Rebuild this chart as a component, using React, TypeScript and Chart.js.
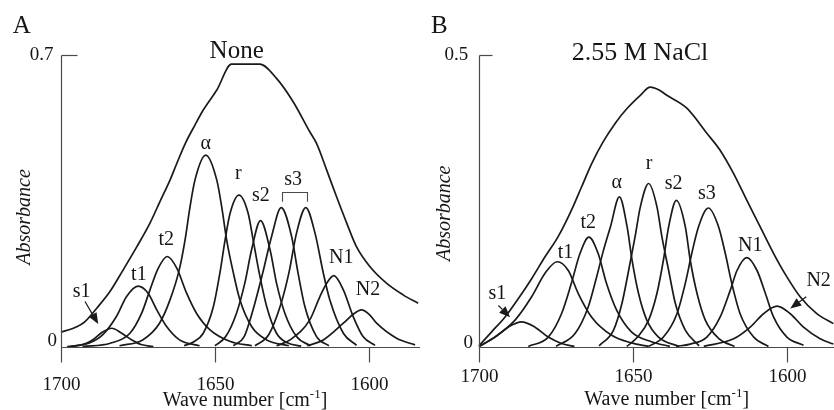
import React, { useEffect, useRef } from 'react';
import { Chart, registerables } from 'chart.js';

Chart.register(...registerables);

type Pt = [number, number];

// ---------- axis ticks ----------
const xTicks = [1700, 1650, 1600];
const yTicksA = [0, 0.7];
const yTicksB = [0, 0.5];

// ---------- Panel A (None) : [wave number, absorbance] ----------
const envA: Pt[] = [
  [1700, 0.036], [1696, 0.045], [1692.2, 0.061], [1688.4, 0.093], [1684.1, 0.133],
  [1679.8, 0.185], [1675.4, 0.24], [1671.1, 0.297], [1667.9, 0.348], [1664.6, 0.4],
  [1662.4, 0.44], [1659.5, 0.49], [1656.5, 0.532], [1653.8, 0.568], [1649.4, 0.616],
  [1644.6, 0.678], [1635.4, 0.678], [1630, 0.644], [1624.6, 0.588], [1619.2, 0.516],
  [1617, 0.488], [1613.7, 0.424], [1610.5, 0.36], [1607.2, 0.297], [1604, 0.24],
  [1599.7, 0.193], [1594.3, 0.153], [1588.9, 0.125], [1584, 0.105],
];
const aS1: Pt[] = [
  [1697, 0.001], [1692, 0.008], [1689.5, 0.018], [1686.5, 0.036], [1683.5, 0.045],
  [1680.5, 0.034], [1677, 0.017], [1674, 0.006], [1670, 0.001],
];
const aT1: Pt[] = [
  [1698, 0.001], [1691, 0.009], [1686.5, 0.029], [1682, 0.073], [1678.7, 0.121],
  [1675, 0.146], [1671.7, 0.129], [1668.9, 0.089], [1665.7, 0.049], [1661.5, 0.017], [1655, 0.003],
];
const aT2: Pt[] = [
  [1693, 0.001], [1684, 0.009], [1677.6, 0.033], [1673.8, 0.081], [1671.1, 0.137],
  [1668.4, 0.189], [1665.5, 0.217], [1662.4, 0.189], [1659.2, 0.129], [1656, 0.081],
  [1651.6, 0.041], [1645, 0.013], [1638, 0.003],
];
const aAlpha: Pt[] = [
  [1681, 0.003], [1673.5, 0.017], [1668, 0.057], [1664.6, 0.113], [1661.6, 0.185],
  [1659.7, 0.257], [1658.1, 0.336], [1656.5, 0.4], [1653, 0.46], [1649.4, 0.4],
  [1647.8, 0.336], [1646.2, 0.257], [1644, 0.177], [1641.9, 0.113], [1638.1, 0.049],
  [1633.2, 0.017], [1626, 0.003],
];
const aR: Pt[] = [
  [1660, 0.003], [1657, 0.012], [1653.8, 0.033], [1650.5, 0.097], [1648.4, 0.177],
  [1646.7, 0.257], [1645.1, 0.32], [1642.2, 0.364], [1639.2, 0.32], [1637.6, 0.257],
  [1635.6, 0.177], [1633.2, 0.097], [1630, 0.033], [1626.5, 0.01], [1622, 0.002],
];
const aS2: Pt[] = [
  [1650, 0.003], [1646.5, 0.025], [1643, 0.081], [1640.3, 0.153], [1638.1, 0.233],
  [1635.2, 0.303], [1632.1, 0.233], [1630, 0.153], [1627.3, 0.081], [1623.5, 0.025], [1619, 0.003],
];
const aS3a: Pt[] = [
  [1644, 0.003], [1640.5, 0.025], [1637.6, 0.09], [1634.5, 0.177], [1631.6, 0.265],
  [1628.5, 0.334], [1625.1, 0.265], [1623, 0.177], [1620.8, 0.097], [1617, 0.025], [1613, 0.003],
];
const aS3b: Pt[] = [
  [1637, 0.003], [1632.5, 0.03], [1628.5, 0.105], [1626, 0.177], [1623.5, 0.273],
  [1620.5, 0.334], [1617.5, 0.273], [1614.8, 0.177], [1612.7, 0.113], [1608.3, 0.033], [1604, 0.004],
];
const aN1: Pt[] = [
  [1630, 0.003], [1625.6, 0.017], [1619.2, 0.065], [1615.9, 0.121], [1613.5, 0.155],
  [1611.4, 0.171], [1608.3, 0.137], [1605.1, 0.073], [1601.9, 0.025], [1598, 0.004],
];
const aN2: Pt[] = [
  [1620, 0.003], [1614.8, 0.017], [1608.3, 0.057], [1605, 0.079], [1602.4, 0.089],
  [1600, 0.079], [1597.5, 0.057], [1591, 0.021], [1585, 0.005],
];

// ---------- Panel B (2.55 M NaCl) ----------
const envB: Pt[] = [
  [1700, 0.002], [1695.9, 0.026], [1691.6, 0.051], [1687.2, 0.083], [1682.9, 0.117],
  [1678.6, 0.154], [1674.3, 0.189], [1670, 0.234], [1666.7, 0.274], [1663.4, 0.314],
  [1659.6, 0.352], [1655.5, 0.385], [1652, 0.408], [1647.6, 0.431], [1644.4, 0.445],
  [1641.5, 0.44], [1639, 0.431], [1632.5, 0.409], [1626, 0.366], [1621.7, 0.337],
  [1617.3, 0.297], [1613, 0.251], [1608.7, 0.206], [1604.3, 0.16], [1600, 0.12],
  [1595.7, 0.086], [1590.3, 0.057], [1584.9, 0.04],
];
const bS1: Pt[] = [
  [1700, 0.001], [1694.8, 0.017], [1690.5, 0.034], [1686.2, 0.043], [1681.8, 0.034],
  [1677.5, 0.017], [1673.2, 0.006], [1669, 0.001],
];
const bT1: Pt[] = [
  [1700, 0.001], [1694.8, 0.017], [1688.3, 0.046], [1682.9, 0.086], [1678.6, 0.126],
  [1674.6, 0.146], [1671, 0.131], [1667.8, 0.092], [1663.4, 0.051], [1656.9, 0.02],
  [1650.5, 0.007], [1645, 0.001],
];
const bT2: Pt[] = [
  [1684, 0.001], [1677.5, 0.017], [1673.2, 0.057], [1670, 0.109], [1667.2, 0.16],
  [1664.3, 0.188], [1661.3, 0.16], [1658.6, 0.109], [1655.3, 0.063], [1650.5, 0.026],
  [1644, 0.009], [1638, 0.001],
];
const bAlpha: Pt[] = [
  [1675, 0.001], [1668.8, 0.023], [1664.5, 0.069], [1661.8, 0.12], [1659.6, 0.165],
  [1657.3, 0.206], [1654.4, 0.257], [1651.9, 0.206], [1650.3, 0.149], [1648.2, 0.092],
  [1645.5, 0.046], [1641.7, 0.017], [1635, 0.001],
];
const bR: Pt[] = [
  [1661, 0.002], [1656.3, 0.029], [1653.6, 0.074], [1651.4, 0.131], [1649.3, 0.189],
  [1647.6, 0.24], [1644.9, 0.28], [1642.2, 0.24], [1640.6, 0.189], [1638.4, 0.131],
  [1636.2, 0.074], [1633, 0.029], [1628.5, 0.002],
];
const bS2: Pt[] = [
  [1652, 0.001], [1648.5, 0.017], [1644.9, 0.046], [1642.2, 0.092], [1640.1, 0.149],
  [1638.4, 0.206], [1635.9, 0.251], [1633, 0.206], [1631.4, 0.149], [1629.2, 0.092],
  [1626.5, 0.046], [1622, 0.014], [1617, 0.001],
];
const bS3: Pt[] = [
  [1645, 0.001], [1640.1, 0.017], [1635.7, 0.057], [1633, 0.109], [1630.9, 0.16],
  [1628.7, 0.206], [1625.5, 0.238], [1622.2, 0.206], [1620, 0.16], [1617.9, 0.109],
  [1615.2, 0.057], [1610.8, 0.017], [1606, 0.001],
];
const bN1: Pt[] = [
  [1636, 0.001], [1631.4, 0.005], [1626, 0.017], [1621.7, 0.051], [1618.4, 0.097],
  [1616.2, 0.131], [1613, 0.153], [1609.7, 0.131], [1607, 0.092], [1604.3, 0.051],
  [1600, 0.017], [1594.6, 0.003],
];
const bN2: Pt[] = [
  [1627, 0.001], [1617.3, 0.014], [1611.9, 0.034], [1607.6, 0.057], [1603.2, 0.07],
  [1598.9, 0.057], [1594.6, 0.034], [1589.2, 0.014], [1584.9, 0.005],
];

// ---------- annotation anchors (data units) ----------
const labelsA: [string, number, number][] = [
  ['s1', 1693.3, 0.133], ['t1', 1674.7, 0.173], ['t2', 1665.8, 0.258], ['α', 1653, 0.488],
  ['r', 1642.4, 0.416], ['s2', 1635.1, 0.362], ['s3', 1624.6, 0.402], ['N1', 1609, 0.213],
  ['N2', 1600.3, 0.137],
];
const labelsB: [string, number, number][] = [
  ['s1', 1694, 0.091], ['t1', 1671.9, 0.161], ['t2', 1664.5, 0.212], ['α', 1655.3, 0.281],
  ['r', 1644.8, 0.314], ['s2', 1636.8, 0.28], ['s3', 1626, 0.263], ['N1', 1611.9, 0.174],
  ['N2', 1589.7, 0.114],
];
const arrowsA: [number, number, number, number][] = [[1692.2, 0.109, 1687.9, 0.055]];
const arrowsB: [number, number, number, number][] = [
  [1693.7, 0.071, 1689.9, 0.051],
  [1593.7, 0.086, 1598.9, 0.066],
];
const bracketA = { from: 1628.1, to: 1620.1, top: 0.372, bottom: 0.348 };

const curvesA = [envA, aS1, aT1, aT2, aAlpha, aR, aS2, aS3a, aS3b, aN1, aN2];
const curvesB = [envB, bS1, bT1, bT2, bAlpha, bR, bS2, bS3, bN1, bN2];

// ---------- styles ----------
const FONT = "'Liberation Serif', 'Times New Roman', Times, serif";
const LINE = '#1a1a1a';
const AXIS = '#4a4a4a';
const TEXT = '#151515';

interface PanelStyle {
  left: number; width: number; padLeft: number; xMin: number;
  yTickLen: number; xTickLen: number; xLabelY: number;
  yLabelRight: number[]; yLabelY: number[];
  letter: string; letterPos: [number, number];
  title: string; titlePos: [number, number]; titleSize: number;
  yTitlePos: [number, number]; xTitlePos: [number, number];
}

const styleA: PanelStyle = {
  left: 0, width: 420, padLeft: 61, xMin: 1583.4,
  yTickLen: 16, xTickLen: 15, xLabelY: 385,
  yLabelRight: [57, 53.5], yLabelY: [341.5, 55],
  letter: 'A', letterPos: [21.7, 26.7],
  title: 'None', titlePos: [236.7, 51.5], titleSize: 25,
  yTitlePos: [25, 217], xTitlePos: [245, 401],
};
const styleB: PanelStyle = {
  left: 420, width: 414, padLeft: 59, xMin: 1584.7,
  yTickLen: 13, xTickLen: 15, xLabelY: 377,
  yLabelRight: [53, 48.3], yLabelY: [343.3, 55],
  letter: 'B', letterPos: [19.3, 26.7],
  title: '2.55 M NaCl', titlePos: [220, 53.3], titleSize: 26,
  yTitlePos: [25, 213.3], xTitlePos: [246.7, 400],
};

function makeDecor(style: PanelStyle, yTicks: number[], labels: [string, number, number][],
  arrows: [number, number, number, number][], bracket: typeof bracketA | null) {
  return {
    id: 'decor' + style.letter,
    afterDatasetsDraw(chart: any) {
      const { ctx, chartArea: ca } = chart;
      const xs = chart.scales.x;
      const ys = chart.scales.y;
      const r = (v: number) => Math.round(v) + 0.5;
      ctx.save();
      ctx.strokeStyle = AXIS;
      ctx.lineWidth = 1.2;
      const y0 = r(ys.getPixelForValue(0));
      const xl = r(xs.getPixelForValue(xTicks[0]));
      const yTop = r(ys.getPixelForValue(yTicks[yTicks.length - 1]));
      ctx.beginPath();
      ctx.moveTo(xl, yTop); ctx.lineTo(xl, y0);
      ctx.moveTo(ca.left, y0); ctx.lineTo(ca.right, y0);
      ctx.stroke();

      ctx.fillStyle = TEXT;
      ctx.font = `19px ${FONT}`;
      ctx.textAlign = 'center';
      ctx.textBaseline = 'middle';
      xTicks.forEach((v) => {
        const px = r(xs.getPixelForValue(v));
        ctx.beginPath(); ctx.moveTo(px, y0); ctx.lineTo(px, y0 + style.xTickLen); ctx.stroke();
        ctx.fillText(String(v), px, style.xLabelY);
      });
      ctx.textAlign = 'right';
      yTicks.forEach((v, i) => {
        const py = r(ys.getPixelForValue(v));
        if (v > 0) {
          ctx.beginPath(); ctx.moveTo(xl, py); ctx.lineTo(xl + style.yTickLen, py); ctx.stroke();
        }
        ctx.fillText(String(v), style.yLabelRight[i], style.yLabelY[i]);
      });

      // axis titles
      ctx.font = `20px ${FONT}`;
      const main = 'Wave number [cm';
      const sup = '-1';
      const w1 = ctx.measureText(main).width;
      const w3 = ctx.measureText(']').width;
      ctx.font = `13px ${FONT}`;
      const w2 = ctx.measureText(sup).width;
      const sx = style.xTitlePos[0] - (w1 + w2 + w3) / 2;
      const ty = style.xTitlePos[1];
      ctx.textAlign = 'left';
      ctx.font = `20px ${FONT}`;
      ctx.fillText(main, sx, ty);
      ctx.font = `13px ${FONT}`;
      ctx.fillText(sup, sx + w1, ty - 6);
      ctx.font = `20px ${FONT}`;
      ctx.fillText(']', sx + w1 + w2, ty);

      ctx.save();
      ctx.translate(style.yTitlePos[0], style.yTitlePos[1]);
      ctx.rotate(-Math.PI / 2);
      ctx.textAlign = 'center';
      ctx.font = `italic 20px ${FONT}`;
      ctx.fillText('Absorbance', 0, 0);
      ctx.restore();

      // panel letter and title
      ctx.textAlign = 'center';
      ctx.font = `25px ${FONT}`;
      ctx.fillText(style.letter, style.letterPos[0], style.letterPos[1]);
      ctx.font = `${style.titleSize}px ${FONT}`;
      ctx.fillText(style.title, style.titlePos[0], style.titlePos[1]);

      // component labels
      ctx.font = `20px ${FONT}`;
      labels.forEach(([t, wx, wy]) => {
        ctx.fillText(t, xs.getPixelForValue(wx), ys.getPixelForValue(wy));
      });

      // arrows
      ctx.strokeStyle = LINE;
      ctx.fillStyle = LINE;
      ctx.lineWidth = 1.2;
      arrows.forEach(([fx, fy, tx, tyy]) => {
        const x1 = xs.getPixelForValue(fx), y1 = ys.getPixelForValue(fy);
        const x2 = xs.getPixelForValue(tx), y2 = ys.getPixelForValue(tyy);
        const ang = Math.atan2(y2 - y1, x2 - x1);
        const hl = 11, hw = 4.5;
        const bx = x2 - hl * Math.cos(ang), by = y2 - hl * Math.sin(ang);
        ctx.beginPath(); ctx.moveTo(x1, y1); ctx.lineTo(bx, by); ctx.stroke();
        ctx.beginPath();
        ctx.moveTo(x2, y2);
        ctx.lineTo(bx + hw * Math.sin(ang), by - hw * Math.cos(ang));
        ctx.lineTo(bx - hw * Math.sin(ang), by + hw * Math.cos(ang));
        ctx.closePath(); ctx.fill();
      });

      if (bracket) {
        const bx1 = xs.getPixelForValue(bracket.from), bx2 = xs.getPixelForValue(bracket.to);
        const bt = r(ys.getPixelForValue(bracket.top)), bb = ys.getPixelForValue(bracket.bottom);
        ctx.strokeStyle = AXIS;
        ctx.lineWidth = 1.1;
        ctx.beginPath();
        ctx.moveTo(r(bx1), bb); ctx.lineTo(r(bx1), bt); ctx.lineTo(r(bx2), bt); ctx.lineTo(r(bx2), bb);
        ctx.stroke();
      }
      ctx.restore();
    },
  };
}

function Panel({ style, curves, yTicks, labels, arrows, bracket }: {
  style: PanelStyle; curves: Pt[][]; yTicks: number[];
  labels: [string, number, number][]; arrows: [number, number, number, number][];
  bracket: typeof bracketA | null;
}) {
  const ref = useRef<HTMLCanvasElement | null>(null);
  useEffect(() => {
    if (!ref.current) return;
    const chart = new Chart(ref.current, {
      type: 'scatter',
      data: {
        datasets: curves.map((c) => ({
          data: c.map(([x, y]) => ({ x, y })),
          showLine: true,
          borderColor: LINE,
          borderWidth: 1.7,
          pointRadius: 0,
          cubicInterpolationMode: 'monotone' as const,
          fill: false,
          clip: false as any,
        })),
      },
      options: {
        responsive: false,
        animation: false,
        devicePixelRatio: 1,
        events: [],
        layout: { padding: { left: style.padLeft, right: 0, top: 55, bottom: 63 } },
        plugins: { legend: { display: false }, tooltip: { enabled: false } },
        scales: {
          x: { type: 'linear', reverse: true, min: style.xMin, max: xTicks[0], display: false },
          y: { type: 'linear', min: 0, max: yTicks[yTicks.length - 1], display: false },
        },
      },
      plugins: [makeDecor(style, yTicks, labels, arrows, bracket)],
    });
    return () => chart.destroy();
  }, []);
  return (
    <canvas
      ref={ref}
      width={style.width}
      height={410}
      style={{ position: 'absolute', left: style.left, top: 0, width: style.width, height: 410 }}
    />
  );
}

export default function App() {
  return (
    <div style={{ position: 'fixed', left: 0, top: 0, width: 834, height: 410, background: '#fff', overflow: 'hidden' }}>
      <Panel style={styleA} curves={curvesA} yTicks={yTicksA} labels={labelsA} arrows={arrowsA} bracket={bracketA} />
      <Panel style={styleB} curves={curvesB} yTicks={yTicksB} labels={labelsB} arrows={arrowsB} bracket={null} />
    </div>
  );
}
